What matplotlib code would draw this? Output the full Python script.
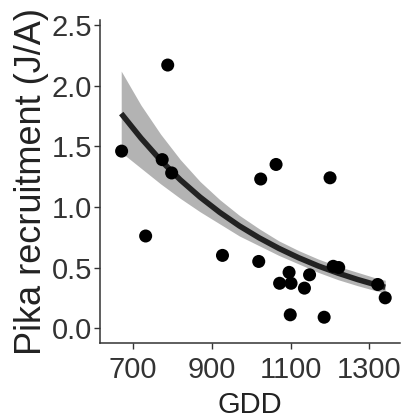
import matplotlib
matplotlib.use("Agg")
import matplotlib.pyplot as plt

plt.rcParams['font.family'] = ['Liberation Sans', 'DejaVu Sans']

# observed points (GDD, recruitment J/A)
gdd = [671, 788, 774, 798, 732, 927, 1024, 1063, 1019, 1200, 1208, 1222,
       1096, 1072, 1101, 1135, 1148, 1099, 1185, 1321, 1340]
recruit = [1.46, 2.17, 1.39, 1.28, 0.76, 0.60, 1.23, 1.35, 0.55, 1.24, 0.51, 0.50,
           0.46, 0.37, 0.37, 0.33, 0.44, 0.11, 0.09, 0.36, 0.25]

# fitted curve and confidence band
fit_gdd = [670, 720, 770, 820, 870, 920, 970, 1020, 1070, 1120, 1170, 1220, 1270, 1320, 1340]
fit_y = [1.77, 1.568, 1.385, 1.223, 1.081, 0.955, 0.843, 0.745, 0.658, 0.581, 0.513,
         0.454, 0.401, 0.354, 0.337]
fit_hi = [2.12, 1.84, 1.60, 1.39, 1.21, 1.06, 0.93, 0.82, 0.72, 0.64, 0.57, 0.51,
          0.46, 0.41, 0.395]
fit_lo = [1.45, 1.32, 1.19, 1.07, 0.96, 0.86, 0.76, 0.68, 0.60, 0.53, 0.46, 0.40,
          0.35, 0.305, 0.29]

x_ticks = [700, 900, 1100, 1300]
y_ticks = [0.0, 0.5, 1.0, 1.5, 2.0, 2.5]

fig = plt.figure(figsize=(4.03, 4.18), dpi=100)
ax = fig.add_axes([0.248, 0.179, 0.745, 0.773])

ax.fill_between(fit_gdd, fit_lo, fit_hi, color='#b3b3b3', lw=0, zorder=1)
ax.plot(fit_gdd, fit_y, color='#222222', lw=4.0, solid_capstyle='butt', zorder=2)
ax.scatter(gdd, recruit, s=88, color='black', edgecolors='none', zorder=3)

ax.set_xlim(616, 1378)
ax.set_ylim(-0.124, 2.541)
ax.set_xticks(x_ticks)
ax.set_yticks(y_ticks)
ax.set_yticklabels([f'{v:.1f}' for v in y_ticks])

for s in ['top', 'right']:
    ax.spines[s].set_visible(False)
for s in ['left', 'bottom']:
    ax.spines[s].set_color('#333333')
    ax.spines[s].set_linewidth(1.1)
ax.tick_params(direction='out', length=4, width=1.0, color='#333333',
               labelcolor='#333333', labelsize=21)
ax.tick_params(axis='y', pad=1.5)
ax.tick_params(axis='x', pad=5)

ax.set_xlabel('GDD', fontsize=21, color='#222222', labelpad=5.5)
ax.set_ylabel('Pika recruitment (J/A)', fontsize=26, color='#222222', labelpad=2)

fig.savefig('out.png', dpi=100)
